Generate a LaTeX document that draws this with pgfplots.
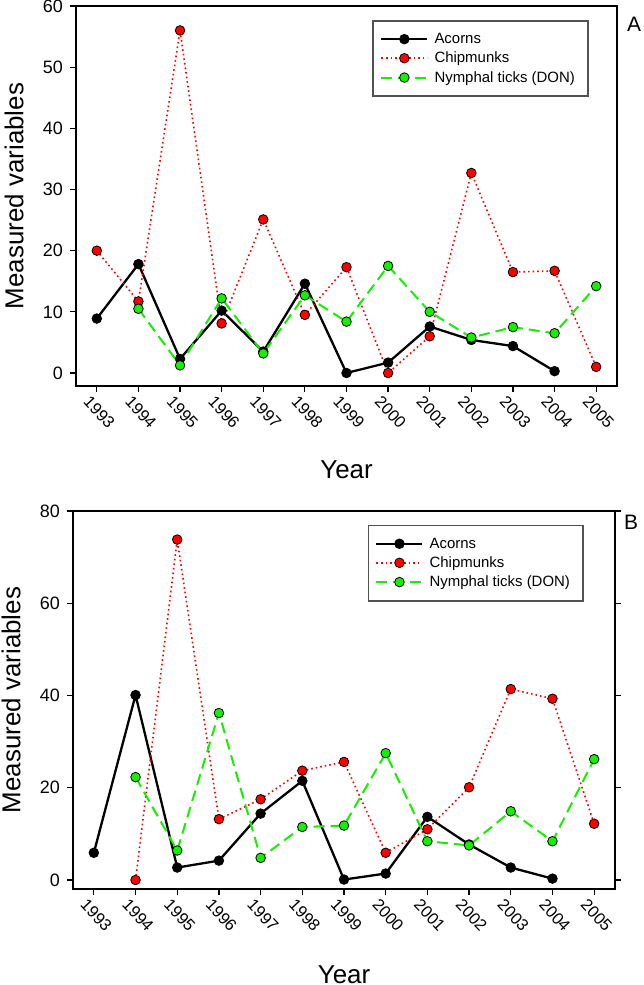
\documentclass[border=0pt]{standalone}
\usepackage{pgfplots}
\pgfplotsset{compat=1.18}
\usepackage{fontspec}
\setmainfont{Liberation Sans}
\definecolor{mred}{RGB}{255,0,0}
\definecolor{mgreen}{RGB}{20,240,0}
\pgfplotsset{
  panel/.style={
    scale only axis,
    xmin=1992.5, xmax=2005.5,
    xtick={1993,...,2005},
    /pgf/number format/assume math mode=true,
    /pgf/number format/1000 sep={},
    tick align=outside,
    major tick length=6bp,
    axis line style={line width=1.5bp},
    every tick/.style={black, line width=1.2bp},
    yticklabel style={font=\fontsize{18}{20}\selectfont, inner sep=1bp, xshift=-6bp},
    xticklabel style={font=\fontsize{16.5}{18}\selectfont, rotate=-47, anchor=north west, inner sep=0bp, yshift=-6bp, xshift=-2bp},
    ylabel={Measured variables},
    xlabel={Year},
    label style={font=\fontsize{26}{30}\selectfont},
    legend cell align=left,
    legend image code/.code={
      \draw[##1] (0bp,0bp) -- (46bp,0bp);
      \draw[##1] plot coordinates {(23bp,0bp)};
    },
    legend style={draw=black!68, line width=1.5bp, font=\fontsize{15}{17}\selectfont,
      inner xsep=7bp, inner ysep=10.5bp, row sep=3bp,
      nodes={inner xsep=6bp, inner ysep=2bp}},
  },
  acorn/.style={black, line width=2.3bp, mark=*, mark size=4.8bp,
    mark options={solid, draw=black, fill=black, line width=0.8bp}},
  chip/.style={mred, line width=1.6bp, dash pattern=on 1.6bp off 3bp, mark=*, mark size=4.8bp,
    mark options={solid, draw=black, fill=mred, line width=0.8bp}},
  tick/.style={mgreen, line width=2bp, dash pattern=on 11bp off 6bp, mark=*, mark size=4.8bp,
    mark options={solid, draw=black, fill=mgreen, line width=0.8bp}},
}
\begin{document}
\begin{tikzpicture}
\useasboundingbox (0,0) rectangle (644bp,985bp);
% Panel A
\begin{axis}[panel,
  at={(76bp,599bp)}, anchor=south west,
  width=541bp, height=380bp,
  ymin=-2.125, ymax=60,
  ytick={0,10,...,60},
  ytick pos=left, xtick pos=bottom,
  xlabel style={at={(axis description cs:0.5,-0.221)}, anchor=center},
  ylabel style={at={(axis description cs:-0.1146,0.5)}, anchor=center},
  legend style={at={(rel axis cs:0.548,0.963)}, anchor=north west},
]
\addplot[acorn] coordinates {(1993,8.9) (1994,17.8) (1995,2.3) (1996,10.2) (1997,3.5) (1998,14.6) (1999,0) (2000,1.7) (2001,7.6) (2002,5.4) (2003,4.4) (2004,0.3)};
\addlegendentry{Acorns}
\addplot[chip] coordinates {(1993,20.0) (1994,11.7) (1995,56.0) (1996,8.1) (1997,25.1) (1998,9.5) (1999,17.3) (2000,0) (2001,6.0) (2002,32.7) (2003,16.5) (2004,16.7) (2005,1.0)};
\addlegendentry{Chipmunks}
\addplot[tick] coordinates {(1994,10.5) (1995,1.25) (1996,12.2) (1997,3.2) (1998,12.7) (1999,8.4) (2000,17.5) (2001,10.0) (2002,5.8) (2003,7.5) (2004,6.5) (2005,14.2)};
\addlegendentry{Nymphal ticks (DON)}
\end{axis}
% Panel B
\begin{axis}[panel,
  at={(73bp,96bp)}, anchor=south west,
  width=542bp, height=378bp,
  ymin=-1.95, ymax=80,
  ytick={0,20,...,80},
  xtick pos=bottom,
  xlabel style={at={(axis description cs:0.5,-0.2275)}, anchor=center},
  ylabel style={at={(axis description cs:-0.114,0.5)}, anchor=center},
  legend style={at={(rel axis cs:0.5435,0.964)}, anchor=north west},
]
\addplot[acorn] coordinates {(1993,5.9) (1994,40.1) (1995,2.7) (1996,4.2) (1997,14.4) (1998,21.5) (1999,0.1) (2000,1.4) (2001,13.7) (2002,7.7) (2003,2.7) (2004,0.3)};
\addlegendentry{Acorns}
\addplot[chip] coordinates {(1994,0) (1995,73.8) (1996,13.2) (1997,17.5) (1998,23.7) (1999,25.6) (2000,5.9) (2001,11.0) (2002,20.1) (2003,41.4) (2004,39.3) (2005,12.2)};
\addlegendentry{Chipmunks}
\addplot[tick] coordinates {(1994,22.3) (1995,6.4) (1996,36.2) (1997,4.8) (1998,11.5) (1999,11.8) (2000,27.5) (2001,8.4) (2002,7.5) (2003,14.9) (2004,8.4) (2005,26.2)};
\addlegendentry{Nymphal ticks (DON)}
\end{axis}
\node[anchor=north west, inner sep=0pt, font=\fontsize{21}{24}\selectfont] at (627bp,968bp) {A};
\node[anchor=north west, inner sep=0pt, font=\fontsize{21}{24}\selectfont] at (624bp,470bp) {B};
\end{tikzpicture}
\end{document}
